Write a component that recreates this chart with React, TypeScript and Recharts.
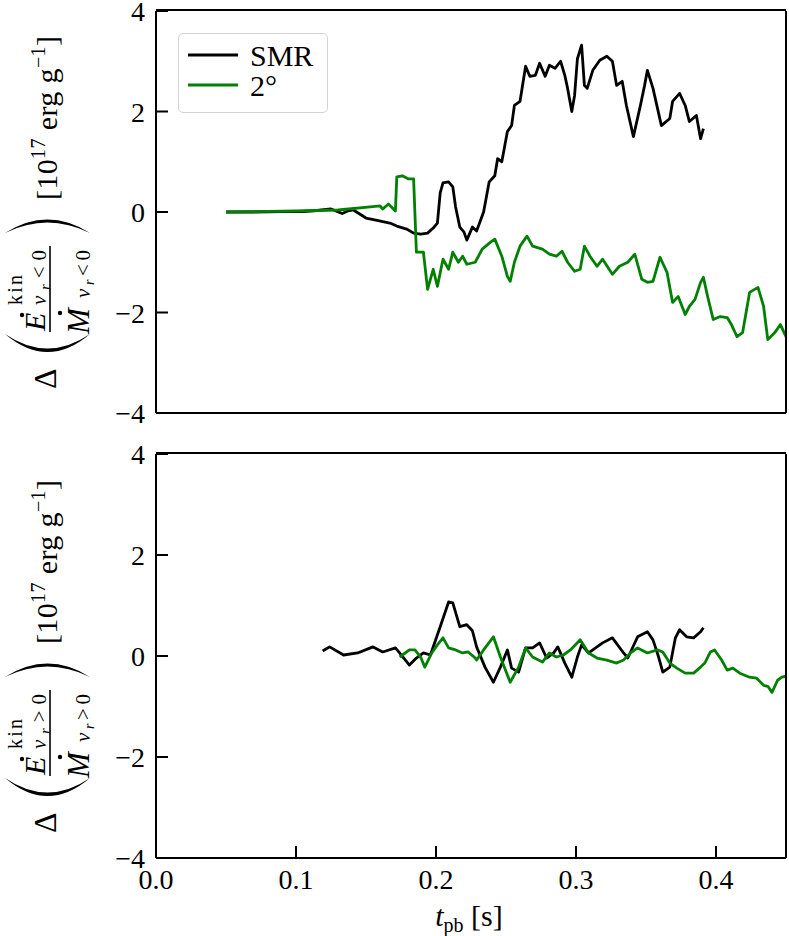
import { LineChart, Line, XAxis, YAxis, Legend } from "recharts";

const FONT = "'Liberation Serif', 'DejaVu Serif', serif";
const GREEN = "#008000";

// [t_pb (s), Δ value (1e17 erg/g)]
// upper panel: infalling matter (v_r < 0)
const smrIn: [number, number][] = [
  [0.05, 0], [0.07, 0], [0.09, 0.01], [0.105, 0.01], [0.115, 0.03], [0.125, 0.06],
  [0.133, -0.03], [0.137, 0.02], [0.141, 0.04], [0.15, -0.12], [0.157, -0.16],
  [0.167, -0.22], [0.172, -0.28], [0.179, -0.34], [0.184, -0.42], [0.189, -0.44],
  [0.194, -0.42], [0.198, -0.32], [0.201, -0.22], [0.203, 0.38], [0.205, 0.58],
  [0.209, 0.6], [0.212, 0.5], [0.214, 0.1], [0.217, -0.3], [0.22, -0.4], [0.222, -0.56],
  [0.226, -0.3], [0.229, -0.38], [0.234, 0], [0.238, 0.6], [0.242, 0.72], [0.244, 1.06],
  [0.247, 1.0], [0.251, 1.6], [0.254, 1.72], [0.256, 2.12], [0.26, 2.2], [0.264, 2.9],
  [0.267, 2.7], [0.271, 2.72], [0.274, 2.96], [0.278, 2.7], [0.281, 2.92], [0.285, 2.86],
  [0.289, 3.0], [0.292, 2.72], [0.294, 2.46], [0.297, 2.0], [0.299, 2.32], [0.301, 3.05],
  [0.304, 3.32], [0.306, 2.52], [0.308, 2.46], [0.312, 2.82], [0.317, 3.02], [0.322, 3.1],
  [0.326, 3.0], [0.329, 2.52], [0.333, 2.6], [0.336, 2.12], [0.341, 1.5], [0.346, 2.12],
  [0.349, 2.52], [0.351, 2.82], [0.355, 2.46], [0.361, 1.72], [0.367, 1.86], [0.369, 2.2],
  [0.374, 2.36], [0.378, 2.12], [0.381, 1.8], [0.386, 1.92], [0.389, 1.46], [0.391, 1.66],
];

const degIn: [number, number][] = [
  [0.05, 0], [0.1, 0.02], [0.13, 0.04], [0.153, 0.1], [0.16, 0.12], [0.162, 0.06],
  [0.166, 0.16], [0.171, 0.02], [0.172, 0.7], [0.176, 0.72], [0.18, 0.66], [0.184, 0.66],
  [0.186, -0.8], [0.191, -0.8], [0.194, -1.54], [0.198, -1.14], [0.201, -1.48],
  [0.205, -0.94], [0.209, -1.14], [0.212, -0.8], [0.216, -1.0], [0.219, -0.88],
  [0.222, -1.04], [0.228, -1.0], [0.233, -0.74], [0.239, -0.6], [0.242, -0.54],
  [0.247, -0.88], [0.251, -1.28], [0.253, -1.38], [0.256, -1.0], [0.26, -0.68],
  [0.265, -0.48], [0.269, -0.68], [0.276, -0.74], [0.281, -0.84], [0.286, -0.88],
  [0.29, -0.78], [0.294, -1.0], [0.299, -1.18], [0.303, -1.14], [0.306, -0.68],
  [0.31, -0.88], [0.315, -1.08], [0.319, -0.94], [0.326, -1.24], [0.331, -1.08],
  [0.337, -1.0], [0.342, -0.84], [0.347, -1.34], [0.351, -1.4], [0.355, -1.38],
  [0.36, -0.9], [0.365, -1.2], [0.369, -1.8], [0.373, -1.68], [0.378, -2.04],
  [0.381, -1.88], [0.385, -1.74], [0.389, -1.4], [0.391, -1.3], [0.394, -1.68],
  [0.398, -2.14], [0.403, -2.08], [0.408, -2.1], [0.411, -2.24], [0.415, -2.48],
  [0.419, -2.4], [0.424, -1.6], [0.43, -1.5], [0.434, -1.88], [0.437, -2.54],
  [0.442, -2.4], [0.446, -2.24], [0.45, -2.48],
];

// lower panel: outflowing matter (v_r > 0)
const smrOut: [number, number][] = [
  [0.119, 0.1], [0.124, 0.18], [0.134, 0.02], [0.144, 0.06], [0.155, 0.18], [0.162, 0.08],
  [0.171, 0.16], [0.174, 0.06], [0.181, -0.18], [0.186, -0.04], [0.191, 0.06],
  [0.196, 0.02], [0.203, 0.58], [0.209, 1.07], [0.212, 1.05], [0.217, 0.58], [0.222, 0.62],
  [0.226, 0.5], [0.229, 0.18], [0.235, -0.22], [0.241, -0.52], [0.246, -0.22],
  [0.251, 0.12], [0.254, -0.24], [0.259, -0.32], [0.264, 0.16], [0.269, 0.16],
  [0.274, 0.26], [0.279, -0.04], [0.284, 0.06], [0.287, 0.18], [0.292, -0.14],
  [0.297, -0.42], [0.301, -0.02], [0.304, 0.22], [0.309, 0.06], [0.314, 0.16],
  [0.319, 0.26], [0.326, 0.36], [0.334, 0.06], [0.337, -0.04], [0.344, 0.38],
  [0.351, 0.48], [0.355, 0.32], [0.359, -0.02], [0.362, -0.32], [0.367, -0.22],
  [0.371, 0.36], [0.374, 0.52], [0.379, 0.38], [0.384, 0.36], [0.389, 0.48], [0.391, 0.56],
];

const degOut: [number, number][] = [
  [0.174, -0.02], [0.181, 0.12], [0.185, 0.12], [0.189, -0.02], [0.192, -0.22],
  [0.197, 0.06], [0.201, 0.22], [0.205, 0.36], [0.209, 0.16], [0.214, 0.12],
  [0.219, 0.06], [0.223, 0.08], [0.228, -0.04], [0.229, -0.08], [0.234, 0.12],
  [0.241, 0.38], [0.246, -0.02], [0.253, -0.52], [0.259, -0.22], [0.264, 0.16],
  [0.269, -0.02], [0.276, -0.12], [0.281, 0.06], [0.286, -0.02], [0.291, 0.02],
  [0.296, 0.12], [0.303, 0.32], [0.309, 0.06], [0.315, -0.04], [0.322, -0.08],
  [0.329, -0.14], [0.334, -0.08], [0.339, 0.06], [0.344, 0.16], [0.351, 0.06],
  [0.358, 0.12], [0.362, 0.08], [0.367, -0.14], [0.372, -0.24], [0.378, -0.34],
  [0.384, -0.34], [0.389, -0.22], [0.392, -0.14], [0.396, 0.08], [0.399, 0.12],
  [0.404, -0.08], [0.408, -0.28], [0.412, -0.24], [0.417, -0.34], [0.424, -0.42],
  [0.429, -0.44], [0.434, -0.58], [0.437, -0.6], [0.44, -0.72], [0.444, -0.48],
  [0.447, -0.42], [0.45, -0.4],
];

const seriesOrder = ["SMR", "2°"];
const xMajor = [0, 0.1, 0.2, 0.3, 0.4];
const xMinor = [0.05, 0.15, 0.25, 0.35, 0.45];
const yTicks = [-4, -2, 0, 2, 4];

const rows = (pts: [number, number][]) => pts.map(([t, v]) => ({ t, v }));
const fmtY = (v: number) => (v < 0 ? `\u2212${-v}` : `${v}`);

const MAJOR = 12;
const MINOR = 7;
const tickStroke = { stroke: "#000", strokeWidth: 2 };
const axisLine = { stroke: "#000", strokeWidth: 2 };

// labels only; the inward tick marks are the axes' own tick lines (negative tickSize),
// so the label anchor arrives MAJOR px inside the frame
function XLabel({ x, y, payload }: any) {
  return (
    <text x={x} y={y + MAJOR + 31} textAnchor="middle" fontSize={28} fontFamily={FONT} fill="#000">
      {payload.value.toFixed(1)}
    </text>
  );
}

function YLabel({ x, y, payload }: any) {
  return (
    <text x={x - MAJOR - 11} y={y} dy={10} textAnchor="end" fontSize={28} fontFamily={FONT} fill="#000">
      {fmtY(payload.value)}
    </text>
  );
}

function LegendBox({ payload }: any) {
  const items = [...((payload || []) as any[])].sort(
    (a, b) => seriesOrder.indexOf(a.value) - seriesOrder.indexOf(b.value),
  );
  return (
    <div style={{ width: 150, height: 80, boxSizing: "border-box", border: "1.5px solid #d4d4d4", borderRadius: 5, background: "#fff" }}>
      <svg width={148} height={78} style={{ display: "block" }}>
        {items.map((it, i) => (
          <g key={it.value} transform={`translate(0 ${i * 30})`}>
            <line x1={9} x2={59} y1={21} y2={21} stroke={it.color} strokeWidth={2.8} />
            <text x={71} y={32} fontSize={30} fontFamily={FONT} fill="#000">{it.value}</text>
          </g>
        ))}
      </svg>
    </div>
  );
}

function Panel({ smr, deg, height, margin, labels, legend }: any) {
  const common = { type: "number" as const, allowDataOverflow: true, interval: 0 as const, tickMargin: 0, stroke: "#000" };
  return (
    <LineChart width={789} height={height} margin={margin}>
      <XAxis {...common} dataKey="t" domain={[0, 0.45]} ticks={xMajor} height={1}
        tickSize={-MAJOR} tickLine={tickStroke} axisLine={axisLine}
        tick={labels ? (p: any) => <XLabel {...p} /> : false} />
      <XAxis {...common} xAxisId="minB" domain={[0, 0.45]} ticks={xMinor} height={1}
        tickSize={-MINOR - 1} tickLine={tickStroke} axisLine={false} tick={false} />
      <XAxis {...common} xAxisId="top" orientation="top" domain={[0, 0.45]} ticks={xMajor} height={1}
        tickSize={-MAJOR} tickLine={tickStroke} axisLine={axisLine} tick={false} />
      <XAxis {...common} xAxisId="minT" orientation="top" domain={[0, 0.45]} ticks={xMinor} height={1}
        tickSize={-MINOR - 1} tickLine={tickStroke} axisLine={false} tick={false} />
      <YAxis {...common} domain={[-4, 4]} ticks={yTicks} width={156}
        tickSize={-MAJOR} tickLine={tickStroke} axisLine={axisLine}
        tick={(p: any) => <YLabel {...p} />} />
      <YAxis {...common} yAxisId="right" orientation="right" domain={[-4, 4]} ticks={yTicks} width={1}
        tickSize={-MAJOR} tickLine={tickStroke} axisLine={axisLine} tick={false} />
      <Line data={rows(smr)} dataKey="v" name="SMR" type="linear" stroke="#000" strokeWidth={2.8}
        strokeLinejoin="round" dot={false} activeDot={false} isAnimationActive={false} />
      <Line data={rows(deg)} dataKey="v" name="2°" type="linear" stroke={GREEN} strokeWidth={2.8}
        strokeLinejoin="round" dot={false} activeDot={false} isAnimationActive={false} />
      {legend && (
        <Legend layout="horizontal" verticalAlign="middle" align="center" content={<LegendBox />}
          wrapperStyle={{ left: 178, top: 33, width: 150 }} />
      )}
    </LineChart>
  );
}

// rotated y label: Δ( Ė^kin_{v_r<0} / Ṁ_{v_r<0} ) [10^17 erg g^-1]
function RatioLabel({ cy, rel }: { cy: number; rel: string }) {
  return (
    <g transform={`translate(0 ${cy}) rotate(-90)`} fontFamily={FONT} fill="#000">
      <text x={-177} y={56} fontSize={32}>Δ</text>
      <path d="M -122 5 Q -158 47.5 -122 90 Q -151 47.5 -122 5 Z" />
      <text x={-119} y={45} fontSize={30} fontStyle="italic">E</text>
      <circle cx={-103} cy={22} r={2.2} />
      <text x={-93} y={22} fontSize={20} textLength={30} lengthAdjust="spacing">kin</text>
      <text x={-93} y={46} fontSize={21} textLength={55} lengthAdjust="spacing">
        <tspan fontStyle="italic">v</tspan>
        <tspan fontSize={14} fontStyle="italic" dy={4}>r</tspan>
        <tspan dy={-4}>{rel}0</tspan>
      </text>
      <line x1={-120} x2={-34} y1={50} y2={50} stroke="#000" strokeWidth={1.6} />
      <text x={-122} y={89} fontSize={31} fontStyle="italic">M</text>
      <circle cx={-101} cy={60} r={2.2} />
      <text x={-86} y={90} fontSize={21} textLength={48} lengthAdjust="spacing">
        <tspan fontStyle="italic">v</tspan>
        <tspan fontSize={14} fontStyle="italic" dy={4}>r</tspan>
        <tspan dy={-4}>{rel}0</tspan>
      </text>
      <path d="M -21 5 Q 6 47.5 -21 90 Q 0 47.5 -21 5 Z" />
      <text x={12} y={57} fontSize={30} textLength={164} lengthAdjust="spacing">
        [10<tspan fontSize={20} dy={-12}>17</tspan>
        <tspan dy={12}> erg g</tspan>
        <tspan fontSize={20} dy={-12}>{"\u22121"}</tspan>
        <tspan dy={12}>]</tspan>
      </text>
    </g>
  );
}

export default function App() {
  return (
    <div style={{ position: "absolute", left: 0, top: 0, width: 789, height: 936, background: "#fff" }}>
      <div style={{ position: "absolute", left: 0, top: 0 }}>
        <Panel smr={smrIn} deg={degIn} height={440} margin={{ top: 9, right: 2, bottom: 25, left: 0 }} legend />
      </div>
      <div style={{ position: "absolute", left: 0, top: 440 }}>
        <Panel smr={smrOut} deg={degOut} height={496} margin={{ top: 12, right: 2, bottom: 76, left: 0 }} labels />
      </div>
      <svg width={789} height={936} style={{ position: "absolute", left: 0, top: 0, pointerEvents: "none" }}>
        <RatioLabel cy={212} rel="<" />
        <RatioLabel cy={656} rel=">" />
        <text x={469} y={926} textAnchor="middle" fontFamily={FONT} fontSize={30} fill="#000">
          <tspan fontStyle="italic">t</tspan>
          <tspan fontSize={20} dy={6}>pb</tspan>
          <tspan dy={-6}> [s]</tspan>
        </text>
      </svg>
    </div>
  );
}
